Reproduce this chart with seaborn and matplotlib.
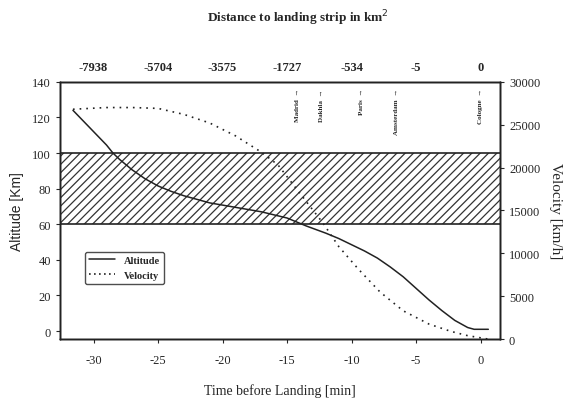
import numpy as np
import pandas as pd
import seaborn as sns
import matplotlib.pyplot as plt
from matplotlib.lines import Line2D

# altitude curve (left axis, km)
alt_t = [-31.6, -30, -29, -28.5, -28, -27, -26, -25, -24, -23, -21, -19, -17, -15, -13.5, -12, -11, -10, -9, -8, -7, -6, -5, -4, -3, -2, -1, -0.5, 0, 0.6]
alt_km = [124, 112, 104.5, 100, 96.5, 90.5, 85.5, 81.5, 78.5, 76, 72, 69.5, 67, 63.5, 59, 55, 52, 48.5, 45, 41, 36, 30.5, 24, 17.5, 11.5, 6, 2, 1, 1, 1]

# velocity curve (right axis, km/h)
vel_t = [-31.6, -29, -27, -25, -23, -21, -19, -17, -15.7, -13.7, -12.2, -11, -9.5, -7.8, -6, -4, -2.3, -1, 0, 0.6]
vel_kmh = [26800, 27000, 27000, 26900, 26200, 25200, 23700, 21800, 20300, 16400, 13500, 10800, 8200, 5500, 3300, 1750, 900, 400, 150, 0]

# top axis: distance labels
top_pos = [-30, -25, -20, -15, -10, -5, 0]
top_labels = ["-7938", "-5704", "-3575", "-1727", "-534", "-5", "0"]

# cities along the track
cities = ["Madrid", "Dakhla", "Paris", "Amsterdam", "Cologne"]
city_t = [-14.2, -12.3, -9.2, -6.5, 0]

band = (60, 100)

df_alt = pd.DataFrame({"t": alt_t, "alt": alt_km})
df_vel = pd.DataFrame({"t": vel_t, "vel": vel_kmh})

sns.set_style("ticks")
plt.rcParams['font.family'] = ['Liberation Serif', 'DejaVu Serif']
plt.rcParams['axes.unicode_minus'] = False
plt.rcParams['hatch.linewidth'] = 0.9

fig = plt.figure(figsize=(5.72, 4.02), dpi=100)
ax = fig.add_axes([0.105, 0.154, 0.769, 0.640])

# hatched layer
ax.axhspan(band[0], band[1], facecolor='none', edgecolor='#333333', hatch='////', linewidth=0)
ax.axhline(band[0], color='#222222', lw=1.2)
ax.axhline(band[1], color='#222222', lw=1.2)

sns.lineplot(data=df_alt, x="t", y="alt", ax=ax, color='#222222', lw=1.1)
ax.set_xlim(-32.6, 1.5)
ax.set_ylim(-4.5, 140)
ax.set_yticks([0, 20, 40, 60, 80, 100, 120, 140])
ax.set_xticks([-30, -25, -20, -15, -10, -5, 0])
ax.tick_params(axis='both', labelsize=9, length=3)
ax.tick_params(axis='x', pad=8)
ax.set_xlabel("Time before Landing [min]", fontsize=10, labelpad=12)
ax.set_ylabel("Altitude [Km]", fontsize=10, family=['Liberation Sans', 'DejaVu Sans'], labelpad=6)

ax2 = ax.twinx()
sns.lineplot(data=df_vel, x="t", y="vel", ax=ax2, color='#222222', lw=1.2, linestyle=(0, (1, 3)))
ax2.set_ylim(0, 30000)
ax2.set_yticks([0, 5000, 10000, 15000, 20000, 25000, 30000])
ax2.tick_params(axis='y', labelsize=9, length=3)
ax2.set_ylabel("Velocity [km/h]", fontsize=11, rotation=-90, labelpad=16)

ax3 = ax.twiny()
ax3.set_xlim(ax.get_xlim())
ax3.set_xticks(top_pos)
ax3.set_xticklabels(top_labels, fontweight='bold', fontsize=9)
ax3.tick_params(axis='x', length=0, pad=6)

for name, t in zip(cities, city_t):
    ax.text(t, 0.975, name + "  \u2192", rotation=90, ha='center', va='top',
            fontsize=5, fontweight='bold', transform=ax.get_xaxis_transform())

handles = [Line2D([], [], color='#222222', lw=1.1),
           Line2D([], [], color='#222222', lw=1.2, linestyle=(0, (1, 2)))]
leg = ax.legend(handles, ["Altitude", "Velocity"], loc='upper left',
                bbox_to_anchor=(0.045, 0.36), frameon=True,
                fancybox=True, edgecolor='#222222', handlelength=2.5,
                prop={'weight': 'bold', 'size': 7.5})
leg.get_frame().set_linewidth(1.0)

for a in (ax, ax2, ax3):
    for s in a.spines.values():
        s.set_color('#222222')
        s.set_linewidth(1.0)

fig.text(0.52, 0.955, "Distance to landing strip in km$^2$", ha='center', va='center',
         fontsize=9.5, fontweight='bold')

fig.savefig("out.png", dpi=100)
